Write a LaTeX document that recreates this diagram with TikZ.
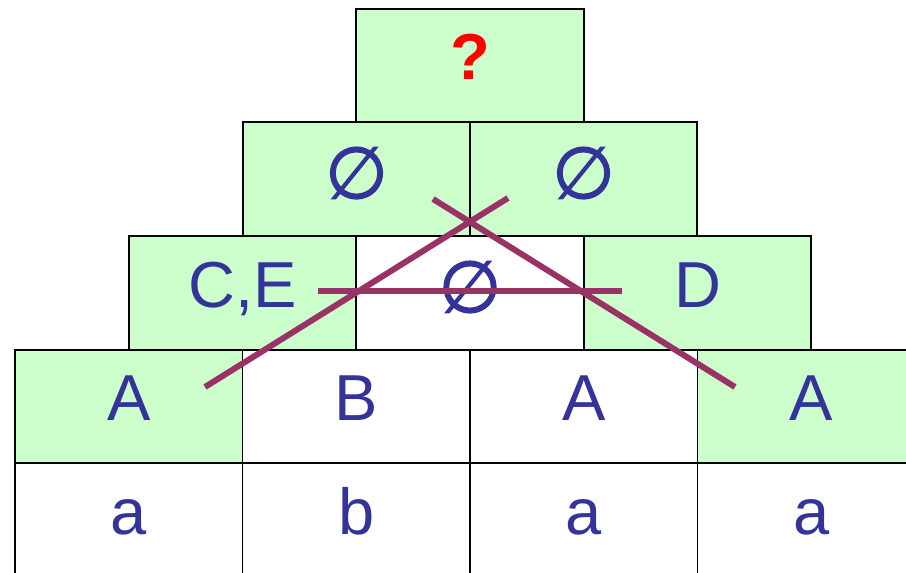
\documentclass[tikz,border=0pt]{standalone}
\usepackage{fontspec}
\setmainfont{Liberation Sans}
\newfontfamily\symfont[FakeBold=1.8]{DejaVu Sans}
\definecolor{cellgreen}{HTML}{CCFFCC}
\definecolor{labelblue}{HTML}{333399}
\definecolor{crossred}{HTML}{993366}
\newcommand{\emptymark}{\raisebox{-0.1cm}{\symfont\fontsize{41}{44}\selectfont ∅}}
\tikzset{
    cell_base/.style={
        rectangle, draw=black, line width=0.9pt,
        minimum width=4.55cm, minimum height=2.27cm, inner sep=0pt,
        text height=1.2cm, text depth=0.63cm,
        text=labelblue, font=\fontsize{37}{40}\selectfont
    },
    cell_green/.style={cell_base, fill=cellgreen},
    cell_white/.style={cell_base, fill=white},
    cross_line/.style={draw=crossred, line width=3.4pt}
}

\begin{document}
\begin{tikzpicture}[x=0.02cm, y=-0.02cm]

    \useasboundingbox (0,0) rectangle (906,573);
    \clip (0,0) rectangle (906,573);

    % top cell
    \node[cell_green, text=red, font=\fontsize{37}{40}\selectfont\bfseries] (qmark) at (470, 65.5) {?};

    % row 1
    \node[cell_green] (emptyL) at (356.5, 179) {\emptymark};
    \node[cell_green] (emptyR) at (583.5, 179) {\emptymark};

    % row 2
    \node[cell_green] (ce) at (242.5, 293) {C,E};
    \node[cell_white] (emptyM) at (470, 293) {\emptymark};
    \node[cell_green] (dd) at (697.5, 293) {D};

    % row 3
    \node[cell_green] (bigA1) at (128.75, 406.5) {A};
    \node[cell_white] (bigB2) at (356.25, 406.5) {B};
    \node[cell_white] (bigA3) at (583.75, 406.5) {A};
    \node[cell_green] (bigA4) at (811.25, 406.5) {A};

    % word row
    \node[cell_white] (smallA1) at (128.75, 520) {a};
    \node[cell_white] (smallB2) at (356.25, 520) {b};
    \node[cell_white] (smallA3) at (583.75, 520) {a};
    \node[cell_white] (smallA4) at (811.25, 520) {a};

    % crossing strokes
    \coordinate (crossLs) at (205, 387);
    \coordinate (crossLe) at (508, 198);
    \coordinate (crossRs) at (433, 199);
    \coordinate (crossRe) at (735, 387);
    \coordinate (crossHs) at (318, 291);
    \coordinate (crossHe) at (622, 291);

    \draw[cross_line] (crossLs) -- (crossLe);
    \draw[cross_line] (crossRs) -- (crossRe);
    \draw[cross_line] (crossHs) -- (crossHe);

\end{tikzpicture}
\end{document}
